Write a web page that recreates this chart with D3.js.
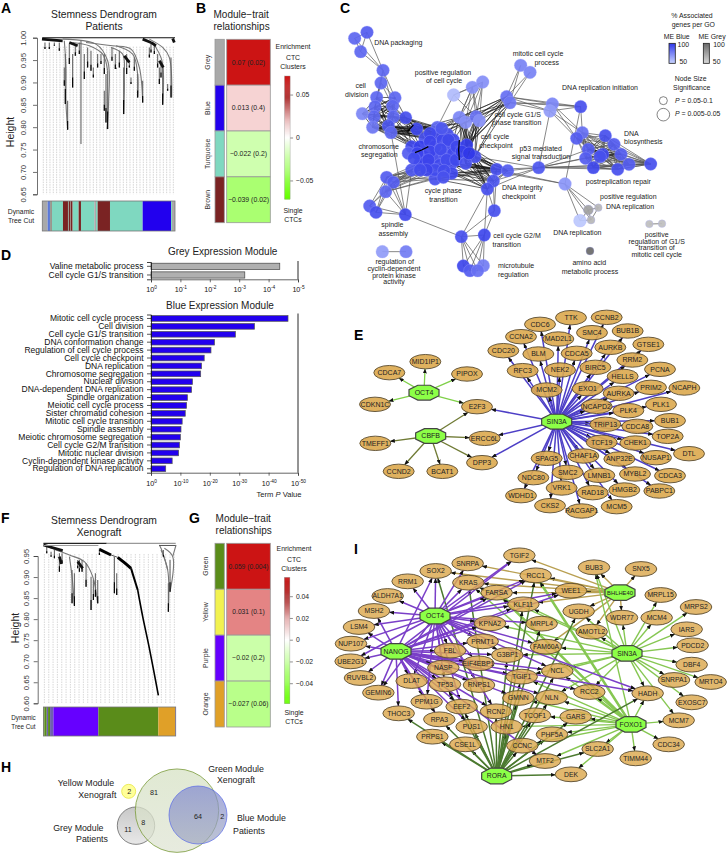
<!DOCTYPE html>
<html><head><meta charset="utf-8">
<script src="https://cdn.jsdelivr.net/npm/d3@7"></script>
<style>
html,body{margin:0;padding:0;background:#fff}
svg{display:block}
text{font-family:"Liberation Sans",Arial,sans-serif;fill:#222}
</style></head><body><div id="c"></div>
<script>
/* ---------- DATA ---------- */
// A: dendrogram readings (leaf position, merge level)
const leafA=z=>z-19, heightA=z=>1.008-.000745*z;
const readArcsA=[[[85,20],[90,100],[90,205],[95,285]],[[80,15],[180,30],[215,80],[218,200],[213,285]],[[150,25],[230,35],[285,45],[310,100],[320,205]],[[225,40],[260,60],[265,130],[263,240]],[[340,15],[380,40],[400,70],[407,190]],[[350,25],[378,80],[380,212]],[[110,25],[160,35],[200,60],[215,110]],[[240,35],[290,60],[305,120],[305,190]]];
const readTipsA=[[95,200,287],[88,60,210],[85,100,155],[110,60,160],[145,60,135],[172,100,130],[215,110,285],[210,120,265],[205,170,230],[263,100,240],[240,100,105],[285,130,150],[305,120,190],[320,140,205],[380,100,212],[370,100,150],[405,70,190],[395,150,170],[340,40,70],[365,60,100],[27,25,45],[40,25,45],[55,25,35],[70,25,50],[100,30,90],[118,30,65],[130,25,60],[155,40,100],[165,50,110],[185,60,100],[195,60,90],[228,40,80],[250,50,100],[272,60,120],[280,80,100],[375,80,130],[355,30,60],[345,25,55],[205,60,120],[238,60,105],[295,70,110]];
const readLongA=[135,20,330];
const readBlobsA=[[18,15,80,20],[320,15,345,25],[345,25,360,35],[410,13,415,25],[100,25,125,35],[265,65,280,85],[370,80,382,100]];
const cutA=[[0,16,'#a9a9a9'],[16,23,'#5b78d8'],[23,25,'#7fd8c0'],[25,28,'#7a2323'],[28,62,'#7fd8c0'],[62,77,'#7a2323'],[77,79,'#7fd8c0'],[79,84,'#7a2323'],[84,85,'#7fd8c0'],[85,91,'#7a2323'],[91,109,'#7fd8c0'],[109,116,'#7a2323'],[116,156,'#7fd8c0'],[156,161,'#a9a9a9'],[161,166,'#7fd8c0'],[166,203,'#7a2323'],[203,301,'#2200ee'],[301,386,'#2200ee'],[386,389,'#7fd8c0'],[389,398,'#a9a9a9']];
cutA[15]=[166,203,'#7a2323'];cutA[16]=[203,301,'#7fd8c0'];
const heightTicksA=[.65,.7,.75,.8,.85,.9,.95,1];
// B
const modulesB=['Grey','Blue','Turquoise','Brown'];
const moduleColorsB=['#a9a9a9','#2200ee','#7fd8c0','#7a2323'];
const corrB=[.07,.013,-.022,-.039];
const pvalB=['0.02','0.4','0.2','0.02'];
const corrTicksB=[.05,0,-.05];
// F
const leafF=z=>z-22, heightF=z=>.988-.000792*z;
const readArcsF=[[[25,15],[60,30],[100,45],[145,65],[170,110],[185,190]],[[100,50],[108,110],[115,195]],[[375,30],[395,90],[397,215]],[[385,25],[410,50],[402,155]],[[370,15],[378,32],[395,90]],[[420,15],[410,50]]];
const readChainF=[[[190,28],[225,45]],[[245,52],[265,68],[285,85]],[[285,85],[305,150]],[[305,150],[320,230],[340,325],[367,466]]];
const chainWidthsF=[3,3,2,1.6];
const readTipsF=[[115,100,198],[108,90,190],[165,110,210],[172,120,180],[185,120,190],[178,100,170],[130,60,95],[138,60,95],[125,60,85],[70,40,95],[78,40,70],[45,35,50],[32,20,40],[55,30,55],[235,50,160],[242,100,165],[150,70,140],[397,130,215],[402,60,155],[190,25,45],[382,30,50]];
const readBlobsF=[[22,15,80,32],[125,65,140,85],[70,50,76,72]];
const cutF=[[0,3,'#5a8c1a'],[3,10,'#5a8c1a'],[10,14,'#6f5fb0'],[14,20,'#5a8c1a'],[20,30,'#6f5fb0'],[30,165,'#6600ff'],[165,345,'#5a8c1a'],[345,395,'#e0a028'],[395,397,'#8060d0']];
const heightTicksF=[.6,.65,.7,.75,.8,.85,.9,.95];
// G
const modulesG=['Green','Yellow','Purple','Orange'];
const moduleColorsG=['#5a8c1a','#f2f250','#6600ff','#e0a028'];
const corrG=[.059,.031,-.02,-.027];
const pvalG=['0.004','0.1','0.2','0.06'];
const corrTicksG=[.04,.02,0,-.02,-.04];
// D
const greyTerms=['Valine metabolic process','Cell cycle G1/S transition'];
const greyExp=[4.38,3.19];
const greyTicks=[0,-1,-2,-3,-4,-5];
const blueTerms=['Mitotic cell cycle process','Cell division','Cell cycle G1/S transition','DNA conformation change','Regulation of cell cycle process','Cell cycle checkpoint','DNA replication','Chromosome segregation','Nuclear division','DNA-dependent DNA replication','Spindle organization','Meiotic cell cycle process','Sister chromatid cohesion','Mitotic cell cycle transition','Spindle assembly','Meiotic chromosome segregation','Cell cycle G2/M transition','Mitotic nuclear division','Cyclin-dependent kinase activity','Regulation of DNA replication'];
const blueExp=[46.6,35.2,28.7,21.6,20.4,18.1,17.2,16.9,14.1,13.8,12.4,12.1,11.65,10.6,10.2,10,9.7,9.4,7.2,5];
const blueTicks=[0,-10,-20,-30,-40,-50];
// C: GO network groups  [x, y, % associated, size]
const gPack=[[141,97,88],[104,115,85],[122,155,85],[189,211,85],[183,249,85]];
const gDiv=[[170,292,85],[225,293,85],[165,320,85],[218,318,85],[127,341,75],[162,350,85],[220,350,85],[257,353,92],[158,382,80],[205,378,90],[213,398,85]];
const gMain=[[290,387,95],[352,382,85],[382,403,92],[315,415,92],[352,405,95],[400,420,95],[275,440,95],[300,440,98],[345,440,92],[385,440,95],[265,460,88],[310,470,98],[345,470,95],[375,465,92],[400,460,95],[300,490,98],[325,495,98],[360,495,95],[395,490,95],[345,537,92],[395,520,95],[275,510,90],
 [330,400,95],[368,420,95],[330,425,96],[385,420,95],[330,455,96],[362,448,94],[292,460,96],[325,480,96],[380,480,94],[410,440,95],[345,510,94],[372,512,94],[320,510,96],[300,510,94],[365,385,90],[408,480,95],[282,475,94],[370,532,92]];
const gRight=[[440,435,98],[425,455,98],[465,470,92],[437,490,92],[447,460,100]];
const gSpindle=[[200,532,88],[220,547,88],[197,575,85],[149,618,88],[168,637,92],[256,644,95]];
const gPos=[[401,285,58],[457,262,72],[488,246,72]];
const gCheck=[[418,352,75],[437,367,72],[468,350,82],[478,362,72]];
const gMitotic=[[602,196,76],[630,217,76]];
const gG1s=[[560,290,82],[570,308,80]];
const gInit=[[697,312,75],[690,333,68],[782,320,92]];
const gRep=[[787,398,82],[770,415,88]];
const gBio=[[856,407,92],[882,433,88],[805,448,88],[848,463,95],[903,463,88],[797,475,88],[927,493,88],[820,503,95],[893,508,92],[992,492,92],[840,470,92]];
const gP53=[[656,503,90]];
const gInteg=[[530,508,92],[563,512,88],[520,543,90],[502,567,92],[523,632,92]];
const gLight=[[735,552,70]];
const gRepl=[[780,662,54]];
const gG2m=[[424,710,92],[493,705,95]];
const gMicro=[[430,798,95],[490,797,78],[450,812,88],[473,812,82]];
const gReg=[[187,755,68],[258,755,78]];
const greyNodes=[[805,630,75,5],[835,623,65,3.8],[813,660,65,4]];
const greyPair=[[988,672,62,3.8],[1026,671,62,3.8]];
const darkNode=[[810,753,100,4]];
const heavyC=[[[285,458],[305,450],[325,440]],[[418,420],[416,450],[418,480]],[[262,395],[280,375]]];
const labelsC=[['DNA packaging',235,127],['mitotic cell cycle',654,160],['process',680,189],['positive regulation',369,217],['of cell cycle',372,242],['DNA replication initiation',840,262],['cell',122,256],['division',110,284],['cell cycle G1/S',593,343],['phase transition',590,367],['cell cycle',525,411],['checkpoint',528,436],['p53 mediated',662,445],['signal transduction',663,471],['chromosome',176,441],['segregation',178,465],['DNA',934,400],['biosynthesis',970,425],['postreplication repair',895,544],['DNA integrity',607,564],['checkpoint',596,590],['cycle phase',370,572],['transition',370,598],['positive regulation',925,591],['DNA replication',930,619],['spindle',217,674],['assembly',220,700],['DNA replication',772,699],['cell cycle G2/M',591,707],['transition',560,733],['positive',1010,704],['regulation of G1/S',1010,724],['transition of',1010,744],['mitotic cell cycle',1010,764],['amino acid',808,787],['metabolic process',810,814],['microtubule',588,796],['regulation',580,823],['regulation of',224,786],['cyclin-dependent',222,806],['protein kinase',222,826],['activity',222,846]];
// E
const hubsE=[['OCT4',282,248],['CBFB',302,378],['SIN3A',680,335]];
const genesE=[['MID1IP1',286,155],['CDCA7',178,188],['PIPOX',411,192],['CDKN1C',135,283],['E2F3',441,290],['TMEFF1',136,400],['CCND2',206,484],['BCAT1',337,484],['ERCC6L',464,385],['DPP3',456,458],['TTK',723,23],['CCNB2',830,22],['CDC6',630,43],['SMC4',786,68],['BUB1B',893,63],['CCNA2',573,80],['MAD2L1',685,87],['GTSE1',955,103],['AURKB',841,112],['CDC20',520,122],['BLM',625,132],['CDCA5',740,130],['RRM2',907,150],['NEK2',690,180],['RFC3',578,182],['BIRC5',796,172],['PCNA',990,178],['HELLS',878,199],['MCM2',650,240],['EXO1',773,236],['PRIM2',963,232],['NCAPH',1063,234],['AURKA',866,250],['PLK1',993,283],['NCAPD2',800,289],['PLK4',895,302],['BUB1',1020,332],['TRIP13',826,343],['CDCA8',922,349],['TOP2A',1013,379],['TCF19',815,397],['CHEK1',916,399],['DTL',1077,431],['NUSAP1',978,443],['ANP32E',868,447],['CHAF1A',760,438],['SPAG5',650,445],['SMC2',713,487],['MYBL2',915,492],['CDCA3',1020,497],['LMNB1',808,496],['NDC80',610,503],['VRK1',695,534],['HMGB2',883,540],['PABPC1',988,543],['WDHD1',573,557],['RAD18',788,548],['CKS2',660,587],['MCM5',860,590],['RACGAP1',755,603]];
const oct4TargetsE=['MID1IP1','CDCA7','PIPOX','CDKN1C','E2F3'];
const cbfbTargetsE=['E2F3','TMEFF1','CCND2','BCAT1','ERCC6L','DPP3'];
// I
const hubsI=[['OCT4',345,228],['NANOG',228,334],['BHLHE40',900,158],['SIN3A',921,340],['FOXO1',933,553],['RORA',530,708]];
const genesI=[['TGIF2',598,46],['SNRPA',443,70],['SOX2',347,93],['RCC1',647,106],['BUB3',822,82],['SNX5',963,87],['RRM1',263,124],['KRAS',445,128],['MRPL15',1022,165],['ALDH7A1',203,168],['FARSA',530,158],['WEE1',753,152],['MRPS2',1128,201],['MSH2',162,213],['KLF11',610,193],['UGDH',776,214],['WDR77',906,233],['MCM4',1010,233],['LSM4',117,261],['KPNA2',510,250],['MRPL4',665,251],['AMOTL2',815,275],['IARS',1100,268],['NUP107',93,311],['PRMT1',488,304],['FAM60A',678,320],['PDCD2',1118,316],['FBL',390,332],['G3BP1',562,345],['UBE2G1',92,364],['NASP',370,383],['EIF4EBP1',475,370],['DBF4',1115,374],['NCL',712,393],['TGIF1',605,410],['RUVBL2',120,414],['SNRPA1',1062,420],['MRTO4',1172,426],['DLAT',275,423],['TP53',375,433],['RNPS1',477,435],['RCC2',808,456],['HADH',983,460],['GEMIN6',175,458],['GMNN',595,474],['NLN',695,472],['EXOSC7',1115,487],['PPM1G',320,485],['EEF2',425,500],['RCN2',528,514],['GARS',767,530],['THOC3',236,520],['TCOF1',645,526],['MCM7',1076,541],['RPA3',358,538],['PUS1',455,560],['HN1',560,560],['PRPS1',337,590],['PHF5A',696,583],['CSE1L',436,613],['CCNC',607,617],['SLC2A1',833,627],['CDC34',1046,613],['TIMM44',947,655],['MTF2',675,663],['DEK',753,703]];
const targetsOCT4=['SOX2','SNRPA','KRAS','TGIF2','RRM1','ALDH7A1','MSH2','LSM4','FARSA','KLF11','KPNA2','PRMT1','FBL','NASP','G3BP1','EIF4EBP1','TP53','RNPS1','DLAT','GEMIN6','EEF2','HADH','MRPL4','FAM60A','RCC1','PPM1G','RCN2','NUP107','UBE2G1','WEE1','NCL'];
const targetsNANOG=['SOX2','NUP107','UBE2G1','RUVBL2','GEMIN6','THOC3','LSM4','MSH2','FBL','NASP','DLAT','TP53','RNPS1','EIF4EBP1','G3BP1','PRMT1','KPNA2','KLF11','FARSA','RCC1','WEE1','TGIF2','PPM1G','RPA3','EEF2','PUS1','MTF2','TGIF1','RCC2','NCL','HADH','GMNN','RCN2','NLN'];
const targetsBHLHE40=['TGIF2','BUB3','SNX5','WEE1','RCC1','KRAS','SOX2','SNRPA','FARSA','UGDH','WDR77','KLF11','AMOTL2','FAM60A'];
const targetsSIN3A=['MRPS2','MCM4','IARS','PDCD2','DBF4','MRTO4','SNRPA1','EXOSC7','MRPL15','HADH','WDR77','AMOTL2','UGDH','FAM60A','MCM7','NLN','G3BP1','RCC2','NCL','TGIF1','KLF11','KPNA2','KRAS','BUB3'];
const targetsFOXO1=['RCC1','KRAS','BUB3','TCOF1','GARS','PHF5A','SLC2A1','MTF2','DEK','TIMM44','CDC34','MCM7','HADH','RCC2','NLN','TGIF1','NCL','GMNN','HN1','FARSA','CCNC'];
const heavyFOXO1=['RCC1','FARSA'];
const targetsRORA=['PRPS1','CSE1L','THOC3','RPA3','PUS1','HN1','CCNC','MTF2','DEK','SLC2A1','HADH','PHF5A','TCOF1','GARS','RCN2','GMNN','EEF2','TGIF1','SOX2','KRAS','RCC1','KLF11','MRPL4','UGDH','NCL','TP53','NLN','G3BP1'];
// H
const vennLabels=[['Yellow Module',258,850],['Xenograft',292,884],['Green Module',708,806],['Xenograft',708,840],['Blue Module',784,955],['Patients',747,992],['Grey Module',235,983],['Patients',276,1016]];
const vennCounts=[['2',388,875],['81',462,877],['64',594,948],['2',667,948],['11',384,988],['8',430,966]];

/* ---------- SETUP ---------- */
const svg=d3.select('#c').append('svg').attr('width',727).attr('height',853).attr('viewBox','0 0 727 853');
const defs=svg.append('defs');
defs.append('marker').attr('id','arr').attr('markerUnits','userSpaceOnUse').attr('markerWidth',5).attr('markerHeight',4).attr('refX',4.6).attr('refY',2).attr('orient','auto').append('path').attr('d','M0,0L5,2L0,4Z').attr('fill','#111');
const txt=(g,x,y,s,size,anchor='middle',extra={})=>{const t=g.append('text').attr('x',x).attr('y',y).attr('font-size',size).attr('text-anchor',anchor).text(s);for(const k in extra)t.attr(k,extra[k]);return t;};
[['A',1,13],['B',196,13],['C',340,13],['D',1,260],['E',354,340],['F',1,523],['G',189,523],['H',1,772],['I',354,554]].forEach(d=>txt(svg,d[1],d[2],d[0],14,'start',{'font-weight':'bold'}).style('fill','#000'));

/* ---------- DENDROGRAM ---------- */
function dendro(o){
  const g=svg.append('g');
  const x=d3.scaleLinear().domain([0,o.leaves]).range(o.xr), y=d3.scaleLinear().domain(o.hd).range(o.yr);
  const X=z=>x(o.leaf(z)), Y=z=>y(o.height(z));
  g.selectAll('.gd').data(d3.range(3,o.leaves,o.step)).join('line').attr('x1',d=>x(d)).attr('x2',d=>x(d)).attr('y1',y(o.gtop)).attr('y2',o.yr[0]).attr('stroke',o.gcol).attr('stroke-width',o.gw).attr('stroke-dasharray','1.5,1');
  const ls=d3.line().x(d=>X(d[0])).y(d=>Y(d[1])).curve(d3.curveCatmullRom);
  g.selectAll('.arc').data(o.arcs).join('path').attr('d',ls).attr('fill','none').attr('stroke','#777').attr('stroke-width',1.1);
  g.selectAll('.tip').data(o.tips).join('line').attr('x1',d=>X(d[0])).attr('x2',d=>X(d[0])).attr('y1',d=>Y(d[1])).attr('y2',d=>Y(d[2])).attr('stroke','#666').attr('stroke-width',1.1);
  g.selectAll('.tip2').data(o.tips).join('line').attr('x1',d=>X(d[0])).attr('x2',d=>X(d[0])).attr('y1',d=>Y(d[2]-(d[2]-d[1])*.3)).attr('y2',d=>Y(d[2])).attr('stroke','#000').attr('stroke-width',1.1);
  g.selectAll('.bl').data(o.blobs).join('line').attr('x1',d=>X(d[0])).attr('x2',d=>X(d[2])).attr('y1',d=>Y(d[1])).attr('y2',d=>Y(d[3])).attr('stroke','#111').attr('stroke-width',2.8);
  const ax=d3.axisLeft(y).tickValues(o.ticks).tickFormat(d3.format('.2f')).tickSize(4);
  const a=svg.append('g').attr('transform',`translate(${o.ax},0)`).call(ax);
  a.select('.domain').attr('stroke','#333').attr('stroke-width',.7);
  a.selectAll('.tick line').attr('stroke','#333').attr('stroke-width',.7);
  a.selectAll('.tick text').attr('transform',`rotate(-90 ${-o.tl} 0)`).attr('x',-o.tl).attr('dy',0).attr('y',0).attr('text-anchor','middle').attr('font-size',7.8).style('font-family','"Liberation Sans"').style('fill','#333');
  const c=svg.append('g');
  c.selectAll('rect').data(o.cut).join('rect').attr('x',d=>x(d[0])).attr('width',d=>x(d[1])-x(d[0])).attr('y',o.bar[0]).attr('height',o.bar[1]-o.bar[0]).attr('fill',d=>d[2]);
  c.append('rect').attr('x',o.xr[0]).attr('y',o.bar[0]).attr('width',o.xr[1]-o.xr[0]).attr('height',o.bar[1]-o.bar[0]).attr('fill','none').attr('stroke','#777').attr('stroke-width',.8);
  return {x,y,g,X,Y};
}
const A=dendro({leaves:398,leaf:leafA,height:heightA,xr:[42.3,175],hd:[.65,1],yr:[194.3,37.7],gtop:.98,step:10,gcol:'#c9c9c9',gw:.8,arcs:readArcsA,tips:readTipsA,blobs:readBlobsA,ticks:heightTicksA,ax:37,tl:11,cut:cutA,bar:[201,231]});
A.g.append('line').attr('x1',A.x(0)).attr('x2',A.x(398)).attr('y1',A.y(1)).attr('y2',A.y(1)).attr('stroke','#111').attr('stroke-width',1.1);
A.g.append('line').attr('x1',A.X(readLongA[0])).attr('x2',A.X(readLongA[0])).attr('y1',A.Y(readLongA[1])).attr('y2',A.Y(readLongA[2])).attr('stroke','#666').attr('stroke-width',1.1);
txt(svg,104,18,'Stemness Dendrogram',10.3); txt(svg,104,30,'Patients',10.3);
txt(svg,14,132,'Height',10.5,'middle',{transform:'rotate(-90 14 132)'});
txt(svg,21,214,'Dynamic',6.8); txt(svg,21,223,'Tree Cut',6.8);

const F=dendro({leaves:397,leaf:leafF,height:heightF,xr:[43.4,175.7],hd:[.6,.95],yr:[703.3,556],gtop:.955,step:13,gcol:'#dcdcdc',gw:1.1,arcs:readArcsF,tips:readTipsF,blobs:readBlobsF,ticks:heightTicksF,ax:37.7,tl:9,cut:cutF,bar:[707,736]});
F.g.append('line').attr('x1',F.x(0)).attr('x2',F.x(190)).attr('y1',F.y(.98)).attr('y2',F.y(.98)).attr('stroke','#222').attr('stroke-width',1.2);
F.g.append('line').attr('x1',F.x(190)).attr('x2',F.x(397)).attr('y1',F.y(.98)).attr('y2',F.y(.98)).attr('stroke','#999').attr('stroke-width',1.2);
F.g.append('line').attr('x1',F.x(0)).attr('x2',F.x(165)).attr('y1',F.y(.975)).attr('y2',F.y(.975)).attr('stroke','#999').attr('stroke-width',1);
F.g.append('line').attr('x1',F.x(347)).attr('x2',F.x(397)).attr('y1',F.y(.975)).attr('y2',F.y(.975)).attr('stroke','#555').attr('stroke-width',1);
const chainLine=d3.line().x(d=>F.X(d[0])).y(d=>F.Y(d[1])).curve(d3.curveCatmullRom);
F.g.selectAll('.ch').data(readChainF).join('path').attr('d',chainLine).attr('fill','none').attr('stroke','#000').attr('stroke-width',(d,i)=>chainWidthsF[i]);
F.g.append('path').attr('d',chainLine([readChainF[0][1],readChainF[1][0]])).attr('stroke','#555').attr('stroke-width',1);
txt(svg,104,524,'Stemness Dendrogram',10.3); txt(svg,99,536,'Xenograft',10.3);
txt(svg,19,628,'Height',10.5,'middle',{transform:'rotate(-90 19 628)'});
txt(svg,23.5,720,'Dynamic',6.3); txt(svg,23.5,729,'Tree Cut',6.3);

/* ---------- HEATMAPS ---------- */
function heat(o){
  const g=svg.append('g');
  const yb=d3.scaleBand().domain(o.mods).range(o.yr);
  const col=d3.scaleLinear().domain([-o.max,0,o.max]).range(['#66ff00','#ffffff','#cc1414']);
  const barCol=d3.scaleLinear().domain([-o.max,0,o.max*.3,o.max*.65,o.max]).range(['#66ff00','#ffffff','#e8b8b8','#b03a3a','#cc1414']);
  g.selectAll('.c').data(o.mods).join('rect').attr('x',215).attr('width',9.3).attr('y',d=>yb(d)).attr('height',yb.bandwidth()).attr('fill',(d,i)=>o.cols[i]).attr('stroke','#999').attr('stroke-width',.8);
  g.selectAll('.v').data(o.mods).join('rect').attr('x',226.7).attr('width',43.6).attr('y',d=>yb(d)).attr('height',yb.bandwidth()).attr('fill',(d,i)=>col(o.corr[i])).attr('stroke','#999').attr('stroke-width',.8);
  g.selectAll('.l').data(o.mods).join('text').attr('x',248.5).attr('y',d=>yb(d)+yb.bandwidth()/2+2.3).attr('text-anchor','middle').attr('font-size',o.fs).text((d,i)=>`${String(o.corr[i]).replace('-','\u2212')} (${o.p[i]})`);
  g.selectAll('.r').data(o.mods).join('text').attr('transform',d=>`translate(${o.rl},${yb(d)+yb.bandwidth()/2}) rotate(-90)`).attr('text-anchor','middle').attr('font-size',6.9).style('fill','#333').text(d=>d);
  const y=d3.scaleLinear().domain(o.cd).range(o.cr);
  const H=o.cr[1]-o.cr[0];
  g.selectAll('.b').data(d3.range(0,120)).join('rect').attr('x',o.cx).attr('width',5.5).attr('y',d=>o.cr[0]+H*d/120).attr('height',H/120+.5).attr('fill',d=>barCol(y.invert(o.cr[0]+H*(d+.5)/120)));
  const a=g.append('g').attr('transform',`translate(${o.cx+5.5},0)`).call(d3.axisRight(y).tickValues(o.ticks).tickSize(3).tickFormat(d=>d===0?'0':String(d).replace('-','\u2212')));
  a.select('.domain').remove();
  a.selectAll('.tick line').attr('stroke','#444').attr('stroke-width',.6);
  a.selectAll('.tick text').attr('font-size',6.8).style('font-family','"Liberation Sans"').style('fill','#222');
  g.append('rect').attr('x',o.cx).attr('y',o.cr[0]).attr('width',5.5).attr('height',H).attr('fill','none').attr('stroke','#999').attr('stroke-width',.4);
}
heat({mods:modulesB,cols:moduleColorsB,corr:corrB,p:pvalB,max:.07,yr:[39.3,222.7],fs:6.9,rl:209.5,cx:284.6,cd:[.0716,-.0716],cr:[76,199],ticks:corrTicksB});
txt(svg,213.5,17.5,'Module\u2212trait',10,'start'); txt(svg,213.5,29.5,'relationships',10,'start');
[['Enrichment',49],['CTC',60],['Clusters',68.5],['Single',213],['CTCs',222]].forEach(d=>txt(svg,293,d[1],d[0],6.9));
heat({mods:modulesG,cols:moduleColorsG,corr:corrG,p:pvalG,max:.059,yr:[543.3,727],fs:6.7,rl:207.5,cx:284.4,cd:[.0574,-.0585],cr:[577.3,703.3],ticks:corrTicksG});
txt(svg,215.6,522,'Module\u2212trait',10,'start'); txt(svg,215.6,534,'relationships',10,'start');
[['Enrichment',551],['CTC',562],['Clusters',570.5],['Single',715],['CTCs',724]].forEach(d=>txt(svg,294,d[1],d[0],6.9));

/* ---------- D BARS ---------- */
function bars(o){
  const g=svg.append('g');
  const x=d3.scaleLog().domain([1,Math.pow(10,-o.max)]).range([151,298]);
  const y=d3.scaleBand().domain(o.terms).range(o.yr).paddingInner(.28).paddingOuter(.14);
  g.selectAll('rect').data(o.terms).join('rect').attr('x',x(1)).attr('y',d=>y(d)).attr('height',y.bandwidth()).attr('width',(d,i)=>x(Math.pow(10,-o.vals[i]))-x(1)).attr('fill',o.fill).attr('stroke',o.stroke).attr('stroke-width',.7);
  const left=g.append('g').attr('transform','translate(151,0)').call(d3.axisLeft(y).tickSize(4));
  left.select('.domain').attr('stroke','#111').attr('stroke-width',.8);
  left.selectAll('.tick line').attr('stroke','#111').attr('stroke-width',.7);
  left.selectAll('.tick text').attr('font-size',8.5).attr('dx',-.5).style('font-family','"Liberation Sans"').style('fill','#111');
  const ax=g.append('g').attr('transform',`translate(0,${o.yr[1]})`).call(d3.axisBottom(x).tickValues(o.ticks.map(e=>Math.pow(10,e))).tickSize(3).tickFormat(''));
  ax.select('.domain').attr('stroke','#555').attr('stroke-width',.9);
  ax.selectAll('.tick line').attr('stroke','#333').attr('stroke-width',.7);
  ax.selectAll('.tick').append('text').attr('y',o.lab).attr('text-anchor','middle').attr('font-size',7.2).style('fill','#111').each(function(d,i){
    const t=d3.select(this);t.append('tspan').text('10');t.append('tspan').attr('dy',-3).attr('font-size',4.8).text(o.ticks[i]);
  });
  g.append('line').attr('x1',298).attr('x2',298).attr('y1',o.yr[0]-1).attr('y2',o.yr[1]).attr('stroke','#111').attr('stroke-width',.9);
}
bars({terms:greyTerms,vals:greyExp,ticks:greyTicks,max:5,yr:[262,279.3],fill:'#b0b0b0',stroke:'#444',lab:13});
bars({terms:blueTerms,vals:blueExp,ticks:blueTicks,max:50,yr:[314.5,472.7],fill:'#2200ee',stroke:'#555',lab:13});
txt(svg,222.7,255,'Grey Expression Module',10); txt(svg,220,309,'Blue Expression Module',10);
const termT=txt(svg,279,497,'',7.6,'middle');
termT.append('tspan').text('Term ');termT.append('tspan').attr('font-style','italic').text('P');termT.append('tspan').text(' Value');

/* ---------- C NETWORK ---------- */
(function(){
  const x=d3.scaleLinear().domain([0,1221]).range([320,727]), y=d3.scaleLinear().domain([0,930]).range([0,310]);
  const g=svg.append('g');
  const all=[gPack,gDiv,gMain,gRight,gSpindle,gPos,gCheck,gMitotic,gG1s,gInit,gRep,gBio,gP53,gInteg,gLight,gRepl,gG2m,gMicro,gReg];
  const clique=a=>d3.merge(a.map((p,i)=>a.slice(i+1).map(q=>[p,q])));
  const cross=(a,b)=>d3.cross(a,b);
  const thin=[...clique(gPack.slice(0,3)),...cross(gPack.slice(1,3),gPack.slice(3,4)),[gPack[0],gPack[3]],[gPack[3],gPack[4]],...cross(gPack.slice(3),gDiv.slice(0,4)),
    ...clique(gSpindle),...cross(gSpindle.slice(0,3),gMain.slice(15,22)),[gSpindle[5],gMain[21]],[gSpindle[5],gG2m[0]],[gSpindle[5],gDiv[10]],
    [gPos[0],gPos[1]],[gPos[0],gPos[2]],[gPos[1],gPos[2]],[gPos[0],gMain[1]],[gPos[0],gCheck[2]],...cross(gPos.slice(1),gCheck),[gPos[1],gCheck[0]],
    ...cross(gG1s,gMitotic),...cross(gG1s,gInit),...clique(gInit),...cross(gInit.slice(0,2),gRep),[gInit[2],gRep[0]],[gInit[2],gLight[0]],
    ...clique(gRep),...cross(gRep,gBio),...cross(gBio,gBio.slice(0,4)),...cross(gBio.slice(3),gBio.slice(6,10)),...cross(gP53,gBio.slice(5,10)),[gP53[0],gBio[3]],[gP53[0],gBio[2]],
    ...cross(gP53,gInteg.slice(0,4)),[gRight[2],gP53[0]],[gMain[18],gLight[0]],[gRight[3],gLight[0]],...cross(gLight,gRepl),...cross(gLight,greyNodes),...clique(greyNodes),[gRepl[0],greyNodes[0]],[gRepl[0],greyNodes[2]],
    ...cross(gInteg.slice(3,5),gG2m),[gInteg[2],gInteg[4]],[gInteg[3],gInteg[4]],[gInteg[0],gInteg[4]],...clique(gG2m),...cross(gG2m,gMicro),...clique(gMicro),
    [gReg[0],gReg[1]],[greyPair[0],greyPair[1]],[gG1s[0],gCheck[0]],[gInit[1],gP53[0]]];
  const thick=[...clique(gDiv),...cross(gDiv.slice(6),gMain.slice(0,8)),...cross(gCheck,gRight),...cross(gCheck.slice(0,2),gMain.slice(0,6)),...cross(gG1s,gCheck),...cross(gG1s,gRight.slice(0,3)),...cross(gRight,gInteg.slice(0,4)),...cross(gMain.slice(17,21),gInteg.slice(0,4)),...clique(gInteg.slice(0,4)),...clique(gCheck),...clique(gRight),...clique(gBio.slice(2,6))];
  const dl=(sel,data,w,c)=>sel.selectAll(null).data(data).join('line').attr('x1',d=>x(d[0][0])).attr('y1',d=>y(d[0][1])).attr('x2',d=>x(d[1][0])).attr('y2',d=>y(d[1][1])).attr('stroke',c).attr('stroke-width',w);
  dl(g,thin,.7,'#555');
  dl(g,thick,.65,'#111');
  const nodeCol=d3.scaleLinear().domain([50,100]).range(['#c8d4ff','#3038ea']);
  const greyCol=d3.scaleLinear().domain([50,100]).range(['#d8d8d8','#6a6a6a']);
  const nd=(data,col,r)=>g.selectAll(null).data(data).join('circle').attr('cx',d=>x(d[0])).attr('cy',d=>y(d[1])).attr('r',d=>d[3]||r).attr('fill',d=>col(d[2])).attr('stroke','#aab0ff').attr('stroke-opacity',.6).attr('stroke-width',.5).attr('fill-opacity',.93);
  all.forEach(a=>nd(a,nodeCol,6.4));
  nd(greyNodes,greyCol,6); nd(greyPair,greyCol,6); nd(darkNode,greyCol,6);
  g.selectAll(null).data(heavyC).join('path').attr('d',d3.line().x(d=>x(d[0])).y(d=>y(d[1]))).attr('fill','none').attr('stroke','#000').attr('stroke-width',1.3);
  g.selectAll(null).data(labelsC).join('text').attr('x',d=>x(d[1])).attr('y',d=>y(d[2])+2.4).attr('text-anchor','middle').attr('font-size',7).text(d=>d[0]);
  [['% Associated',1116,48],['genes per GO',1120,74],['ME Blue',1070,109],['ME Grey',1176,109],['100',1090,135],['50',1090,184],['100',1197,135],['50',1190,184],['Node Size',1112,237],['Significance',1115,262]].forEach(d=>txt(g,x(d[1]),y(d[2])+2.4,d[0],6.9));
  const gr=(id,c)=>{const l=defs.append('linearGradient').attr('id',id).attr('x1',0).attr('x2',0).attr('y1',0).attr('y2',1);l.append('stop').attr('offset',0).attr('stop-color',c(100));l.append('stop').attr('offset',1).attr('stop-color',c(50));};
  gr('gb',nodeCol);gr('gg',greyCol);
  g.append('rect').attr('x',x(1047)).attr('y',y(130)).attr('width',6.3).attr('height',20).attr('fill','url(#gb)').attr('stroke','#222').attr('stroke-width',.8);
  g.append('rect').attr('x',x(1150)).attr('y',y(130)).attr('width',6).attr('height',20).attr('fill','url(#gg)').attr('stroke','#222').attr('stroke-width',.8);
  g.append('circle').attr('cx',x(1030)).attr('cy',y(302)).attr('r',4).attr('fill','#fff').attr('stroke','#333').attr('stroke-width',.6);
  g.append('circle').attr('cx',x(1030)).attr('cy',y(344)).attr('r',6.3).attr('fill','#fff').attr('stroke','#333').attr('stroke-width',.6);
  [['= 0.05-0.1',302],['= 0.005-0.05',340]].forEach(d=>{const t=txt(g,x(1065),y(d[1])+2.4,'',6.9,'start');t.append('tspan').attr('font-style','italic').text('P');t.append('tspan').text(' '+d[0]);});
})();

/* ---------- GENE NETWORKS ---------- */
function net(o){
  const x=d3.scaleLinear().domain([0,1221]).range([o.ox,o.ox+407]), y=d3.scaleLinear().domain([0,600]).range([o.oy,o.oy+200]);
  const g=svg.append('g');
  const pos=new Map([...o.hubs,...o.genes].map(d=>[d[0],d]));
  const edges=[];
  o.links.forEach(l=>l.targets.forEach(t=>edges.push({s:pos.get(l.hub),t:pos.get(t),c:l.color,w:l.w})));
  const rx=o.rx,ry=o.ry;
  const end=(e)=>{const x0=x(e.s[1]),y0=y(e.s[2]),x1=x(e.t[1]),y1=y(e.t[2]);const dx=x1-x0,dy=y1-y0;const k=1/Math.sqrt(dx*dx/(rx*rx)+dy*dy/(ry*ry));return [x1-dx*k,y1-dy*k];};
  g.selectAll('.e').data(edges).join('line').attr('x1',d=>x(d.s[1])).attr('y1',d=>y(d.s[2])).attr('x2',d=>end(d)[0]).attr('y2',d=>end(d)[1]).attr('stroke',d=>d.c).attr('stroke-width',d=>d.w).attr('marker-end','url(#arr)');
  const ge=g.selectAll('.n').data(o.genes).join('g').attr('transform',d=>`translate(${x(d[1])},${y(d[2])})`);
  ge.append('ellipse').attr('rx',rx).attr('ry',ry).attr('fill','#dca84e').attr('fill-opacity',o.op).attr('stroke','#5a4c30').attr('stroke-width',.9);
  ge.append('text').attr('y',2.4).attr('text-anchor','middle').attr('font-size',o.fs).text(d=>d[0]);
  const oct=d3.line().curve(d3.curveLinearClosed);
  const pts=d3.range(8).map(i=>{const a=Math.PI/8+i*Math.PI/4;return [Math.cos(a)*o.hx/Math.cos(Math.PI/8),Math.sin(a)*o.hy/Math.cos(Math.PI/8)];});
  const hb=g.selectAll('.h').data(o.hubs).join('g').attr('transform',d=>`translate(${x(d[1])},${y(d[2])})`);
  hb.append('path').attr('d',oct(pts)).attr('fill','#8cff47').attr('stroke','#444').attr('stroke-width',1.2);
  hb.append('text').attr('y',2.4).attr('text-anchor','middle').attr('font-size',d=>d[0].length>6?5.8:o.fs).text(d=>d[0]);
}
const sin3aTargetsE=genesE.map(d=>d[0]).filter(n=>!oct4TargetsE.includes(n)&&!cbfbTargetsE.includes(n)).concat(['E2F3','ERCC6L','DPP3']);
net({ox:330,oy:310,hubs:hubsE,genes:genesE,rx:15.5,ry:7.2,hx:15,hy:7.4,fs:7,op:.9,links:[
 {hub:'OCT4',targets:oct4TargetsE,color:'#7fd048',w:1.3},
 {hub:'CBFB',targets:cbfbTargetsE,color:'#6f7a34',w:1.3},
 {hub:'SIN3A',targets:sin3aTargetsE,color:'#4d3fc6',w:1.5}]});
net({ox:320,oy:540,hubs:hubsI,genes:genesI,rx:15.8,ry:7.4,hx:15,hy:7.8,fs:6.8,op:.82,links:[
 {hub:'BHLHE40',targets:targetsBHLHE40,color:'#b9a052',w:1.4},
 {hub:'SIN3A',targets:targetsSIN3A,color:'#86c752',w:1.4},
 {hub:'FOXO1',targets:targetsFOXO1,color:'#86c752',w:1.4},
 {hub:'FOXO1',targets:heavyFOXO1,color:'#86c752',w:2.6},
 {hub:'RORA',targets:targetsRORA,color:'#4c7a30',w:1.5},
 {hub:'OCT4',targets:targetsOCT4,color:'#7a3fc8',w:1.5},
 {hub:'NANOG',targets:targetsNANOG,color:'#7a3fc8',w:1.5}]});

/* ---------- H VENN ---------- */
(function(){
  const sy=d3.scaleLinear().domain([0,1059]).range([500,853]);
  const sx=d3.scaleLinear().domain([0,960]).range([0,320]);
  const g=svg.append('g');
  const lg=(id,a,b)=>{const l=defs.append('linearGradient').attr('id',id).attr('x1',0).attr('x2',0).attr('y1',0).attr('y2',1);l.append('stop').attr('offset',0).attr('stop-color',a);l.append('stop').attr('offset',1).attr('stop-color',b);};
  lg('vg','#d6e2c4','#dfe4d4');lg('vb','#8088d0','#a0a8c0');lg('vy','#c8c8c8','#e8e8e8');
  g.append('circle').attr('cx',sx(408)).attr('cy',sy(977)).attr('r',18.7).attr('fill','url(#vy)').attr('stroke','#555').attr('stroke-width',.7);
  g.append('circle').attr('cx',sx(531)).attr('cy',sy(932)).attr('r',41.7).attr('fill','url(#vg)').attr('fill-opacity',.75).attr('stroke','#7a9a3a').attr('stroke-width',.8);
  g.append('circle').attr('cx',sx(594)).attr('cy',sy(945)).attr('r',29).attr('fill','url(#vb)').attr('fill-opacity',.7).attr('stroke','#5868e8').attr('stroke-width',.7);
  g.append('circle').attr('cx',sx(386)).attr('cy',sy(874)).attr('r',7).attr('fill','#ffff99').attr('stroke','#e6e640').attr('stroke-width',.8);
  g.selectAll(null).data(vennLabels).join('text').attr('x',d=>sx(d[1])).attr('y',d=>sy(d[2])+3).attr('text-anchor','middle').attr('font-size',8.8).text(d=>d[0]);
  g.selectAll(null).data(vennCounts).join('text').attr('x',d=>sx(d[1])).attr('y',d=>sy(d[2])+2.6).attr('text-anchor','middle').attr('font-size',7.2).text(d=>d[0]);
})();
</script></body></html>
